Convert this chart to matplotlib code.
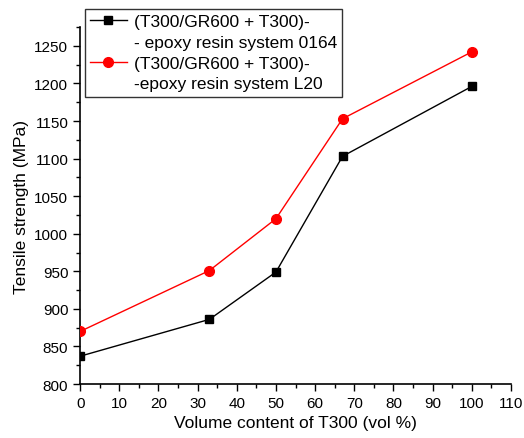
import matplotlib
matplotlib.use('Agg')
import matplotlib.pyplot as plt
from matplotlib.lines import Line2D
from matplotlib.ticker import MultipleLocator

plt.rcParams['font.family'] = ['Liberation Sans', 'DejaVu Sans']

volume = [0, 33, 50, 67, 100]
strength_0164 = [837, 886, 949, 1103, 1196]
strength_l20 = [870, 951, 1020, 1153, 1242]
label_0164 = ['(T300/GR600 + T300)-', '- epoxy resin system 0164']
label_l20 = ['(T300/GR600 + T300)-', '-epoxy resin system L20']

fig = plt.figure(figsize=(5.24, 4.39), dpi=100)
ax = fig.add_axes([0.153, 0.123, 0.822, 0.813])

h1, = ax.plot(volume, strength_0164, color='black', linewidth=1, marker='s', markersize=5.5,
              zorder=3)
h2, = ax.plot(volume, strength_l20, color='red', linewidth=1, marker='o', markersize=7,
              zorder=3)

ax.set_xlim(0, 110)
ax.set_ylim(800, 1275)
ax.xaxis.set_major_locator(MultipleLocator(10))
ax.xaxis.set_minor_locator(MultipleLocator(5))
ax.yaxis.set_major_locator(MultipleLocator(50))
ax.yaxis.set_minor_locator(MultipleLocator(25))
ax.tick_params(which='major', direction='out', length=5, width=1, labelsize=11)
ax.tick_params(which='minor', direction='out', length=3, width=1)
ax.spines['top'].set_visible(False)
ax.spines['right'].set_visible(False)
for s in ['left', 'bottom']:
    ax.spines[s].set_linewidth(1.2)

ax.set_xlabel('Volume content of T300 (vol %)', fontsize=12.5)
ax.set_ylabel('Tensile strength (MPa)', fontsize=12.5)

# two-line labels: second line gets an empty handle
blank = Line2D([], [], linestyle='none')
handles = [h1, blank, h2, blank]
labels = [label_0164[0], label_0164[1], label_l20[0], label_l20[1]]
leg = ax.legend(handles, labels, loc='upper left', bbox_to_anchor=(85 / 524, 1 - 10 / 439),
                bbox_transform=fig.transFigure, fontsize=12.5, frameon=True,
                fancybox=False, edgecolor='black', handlelength=2.1,
                borderaxespad=0, labelspacing=0.32, handletextpad=0.4, borderpad=0.3)
leg.get_frame().set_linewidth(1)

fig.savefig('out.png', dpi=100)
